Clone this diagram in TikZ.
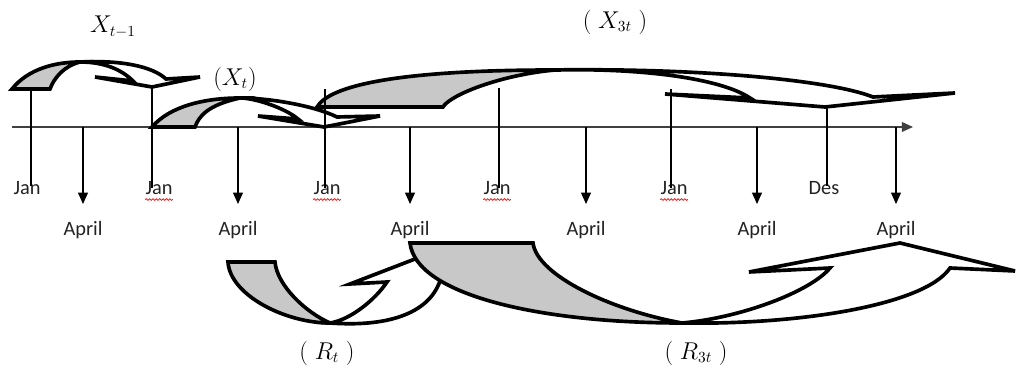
\documentclass[tikz,border=0pt]{standalone}
\usepackage{fontspec}
\setmainfont{Carlito}
\usetikzlibrary{arrows.meta,decorations.pathmorphing}

\definecolor{bandgray}{RGB}{200,200,200}
\definecolor{inkgray}{RGB}{35,35,35}

\tikzset{
  band/.style={draw=black, line width=2.6pt},
  shade/.style={band, fill=bandgray},
  face/.style={band, fill=white},
  tick/.style={draw=black, line width=0.8pt},
  drop/.style={tick, -{Triangle[width=7pt,length=8pt]}},
  month/.style={font=\fontsize{14.5}{16}\selectfont, text=inkgray, inner sep=0pt},
  mlabel/.style={font=\fontsize{16}{18}\selectfont, inner sep=0pt},
  spell/.style={draw=red, line width=0.5pt, decorate,
    decoration={snake, amplitude=0.6pt, segment length=2.4pt}}
}

\begin{document}
\begin{tikzpicture}[x=0.025cm, y=-0.025cm]
\useasboundingbox (0,0) rectangle (1019,365);

% time axis
\coordinate (ax0) at (12,127);
\coordinate (ax1) at (913,127);
\draw[line width=1pt, draw=black!75, -{Triangle[width=7pt,length=8pt]}] (ax0) -- (ax1);

% curved arrows above the axis: shaded back part, then the front band with its head
\filldraw[shade] (12,89) .. controls (28,69) and (55,62) .. (80,62)
  .. controls (64,66) and (54,78) .. (50,89) -- cycle;
\filldraw[face] (80,62) .. controls (120,60) and (152,66) .. (166,79)
  -- (200,77) -- (152,87) -- (95,77) -- (133,81)
  .. controls (122,70) and (105,62) .. (80,62) -- cycle;

\filldraw[shade] (152,127) .. controls (170,106) and (205,98) .. (240,98)
  .. controls (208,105) and (199,116) .. (195,127) -- cycle;
\filldraw[face] (240,98) .. controls (270,98) and (315,106) .. (337,117)
  -- (380,116) -- (324,127) -- (258,116) -- (298,119)
  .. controls (285,108) and (255,98) .. (240,98) -- cycle;

\filldraw[shade] (317,107) .. controls (330,85) and (400,70) .. (555,70)
  .. controls (500,75) and (450,95) .. (443,107) -- cycle;
\filldraw[face] (555,70) .. controls (700,68) and (830,80) .. (873,97)
  -- (955,93) -- (825,107) -- (665,94) -- (750,98)
  .. controls (720,78) and (640,68) .. (555,70) -- cycle;

% curved arrows below the axis
\filldraw[shade] (228,262) .. controls (230,295) and (285,323) .. (330,323)
  .. controls (305,312) and (277,285) .. (275,262) -- cycle;
\filldraw[face] (330,323) .. controls (385,327) and (428,315) .. (440,281)
  -- (478,284) -- (415,259) -- (350,284) -- (387,282)
  .. controls (375,300) and (350,320) .. (330,323) -- cycle;

\filldraw[shade] (410,243) .. controls (416,295) and (540,323) .. (682,323)
  .. controls (610,310) and (537,275) .. (533,243) -- cycle;
\filldraw[face] (682,323) .. controls (800,325) and (925,305) .. (950,268)
  -- (1015,271) -- (900,243) -- (749,272) -- (830,268)
  .. controls (810,292) and (740,318) .. (682,323) -- cycle;

% month labels
\node[month] (jan1) at (27,188) {Jan};
\node[month] (jan2) at (159,188) {Jan};
\node[month] (jan3) at (327,188) {Jan};
\node[month] (jan4) at (497,188) {Jan};
\node[month] (jan5) at (674,188) {Jan};
\node[month] (des) at (824,188) {Des};

% year-start markers
\coordinate (jt1) at (31,89);   \coordinate (jb1) at (31,186);
\coordinate (jt2) at (152,87);  \coordinate (jb2) at (152,188);
\coordinate (jt3) at (325,89);  \coordinate (jb3) at (325,188);
\coordinate (jt4) at (499,88);  \coordinate (jb4) at (499,188);
\coordinate (jt5) at (671,89);  \coordinate (jb5) at (671,188);
\coordinate (jt6) at (827,107); \coordinate (jb6) at (827,186);
\foreach \i in {1,...,6}{ \draw[tick] (jt\i) -- (jb\i); }

% April markers
\foreach \i/\x in {1/83,2/238,3/410,4/586,5/757,6/896}{
  \coordinate (at\i) at (\x,127);
  \coordinate (ab\i) at (\x,204);
  \node[month] (apr\i) at (\x,230) {April};
}
\foreach \i in {1,...,6}{ \draw[drop] (at\i) -- (ab\i); }

% spelling marks under Jan
\foreach \n in {jan2,jan3,jan4,jan5}{
  \draw[spell] ([yshift=-3.6pt]\n.base west) -- ([yshift=-3.6pt]\n.base east);
}

% variable labels
\node[mlabel] (xprev) at (113,27) {$X_{t-1}$};
\node[mlabel] (xcur) at (235,79) {$(X_t)$};
\node[mlabel] (xthree) at (615,22) {$(\;X_{3t}\;)$};
\node[mlabel] (rcur) at (327,353) {$(\;R_t\;)$};
\node[mlabel] (rthree) at (696,353) {$(\;R_{3t}\;)$};
\end{tikzpicture}
\end{document}
